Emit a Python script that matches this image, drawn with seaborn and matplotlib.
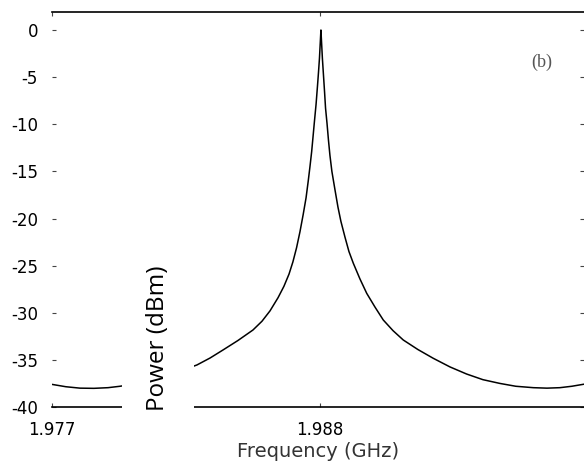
import matplotlib
matplotlib.use('Agg')
import matplotlib.pyplot as plt
import seaborn as sns
import pandas as pd

# Values (frequency in GHz, power in dBm)
freq = [1.97700, 1.97757, 1.97815, 1.97872, 1.97930, 1.97979, 1.98041,
        1.98102, 1.98164, 1.98225, 1.98295, 1.98349, 1.98402, 1.98463,
        1.98525, 1.98562, 1.98595, 1.98628, 1.98652, 1.98673, 1.98689,
        1.98704, 1.98718, 1.98731, 1.98743, 1.98752, 1.98759, 1.98766,
        1.98771, 1.98777, 1.98784, 1.98790, 1.98794, 1.98798, 1.98801,
        1.98804,
        1.98807, 1.98810, 1.98814, 1.98819, 1.98823, 1.98829, 1.98835,
        1.98841, 1.98849, 1.98862, 1.98874, 1.98886, 1.98903, 1.98919,
        1.98937, 1.98964, 1.98992, 1.99026, 1.99060, 1.99100, 1.99142,
        1.99202, 1.99265, 1.99334, 1.99402, 1.99469, 1.99539, 1.99604,
        1.99676, 1.99732, 1.99785, 1.99834, 1.99884]
power = [-37.6, -37.85, -38.0, -38.02, -37.95, -37.8, -37.55,
         -37.2, -36.75, -36.2, -35.54, -34.8, -33.95, -32.95,
         -31.83, -30.9, -29.8, -28.4, -27.2, -25.9, -24.6,
         -23.1, -21.4, -19.6, -17.8, -16.0, -14.5, -12.9,
         -11.5, -9.8, -7.9, -5.9, -4.5, -3.0, -1.5,
         0.0,
         -1.5, -3.0, -4.6, -6.6, -8.3, -9.9, -11.7,
         -13.3, -15.0, -17.0, -18.8, -20.3, -22.0, -23.5,
         -24.75, -26.4, -27.94, -29.4, -30.77, -31.9, -32.89,
         -33.9, -34.83, -35.75, -36.5, -37.1, -37.5, -37.8,
         -37.95, -38.0, -37.95, -37.8, -37.58]

x_ticks = [1.977, 1.988]
x_tick_labels = ['1.977', '1.988']
y_ticks = [0, -5, -10, -15, -20, -25, -30, -35, -40]

df = pd.DataFrame({'freq': freq, 'power': power})

sns.set_style('ticks')
plt.rcParams['font.family'] = ['DejaVu Sans']
plt.rcParams['axes.unicode_minus'] = False

fig = plt.figure(figsize=(5.84, 4.66), dpi=100)
ax = fig.add_axes([52 / 584, 59 / 466, 532 / 584, 395 / 466])

sns.lineplot(data=df, x='freq', y='power', ax=ax, color='black', linewidth=1.1)

ax.set_xlim(1.977, 1.99884)
ax.set_ylim(-40, 1.91)
ax.set_xticks(x_ticks)
ax.set_xticklabels(x_tick_labels)
ax.set_yticks(y_ticks)
ax.set_yticklabels([str(v) for v in y_ticks])

# spines: only top and bottom lines are drawn
ax.spines['left'].set_visible(False)
ax.spines['right'].set_visible(False)
for s in ['top', 'bottom']:
    ax.spines[s].set_color('black')
    ax.spines[s].set_linewidth(1.2)

ax.tick_params(direction='in', length=3, width=0.8, color='#444444',
               top=True, right=True, pad=10, labelsize=12, labelcolor='black')

ax.set_xlabel('Frequency (GHz)', fontsize=14, color='#333333', labelpad=2)
ax.set_ylabel('')

# y label sits inside the plot on a white box
ax.text(0.199, 0.1747, 'Power (dBm)', transform=ax.transAxes, rotation=90,
        ha='center', va='center', fontsize=17.5, family='Open Sans',
        color='black', zorder=10,
        bbox=dict(boxstyle='square,pad=1.0', fc='white', ec='none'))

ax.text(0.921, 0.873, '(b)', transform=ax.transAxes, ha='center', va='center',
        fontsize=13, family='Liberation Serif', color='#555555')

fig.savefig('out.png', dpi=100)
